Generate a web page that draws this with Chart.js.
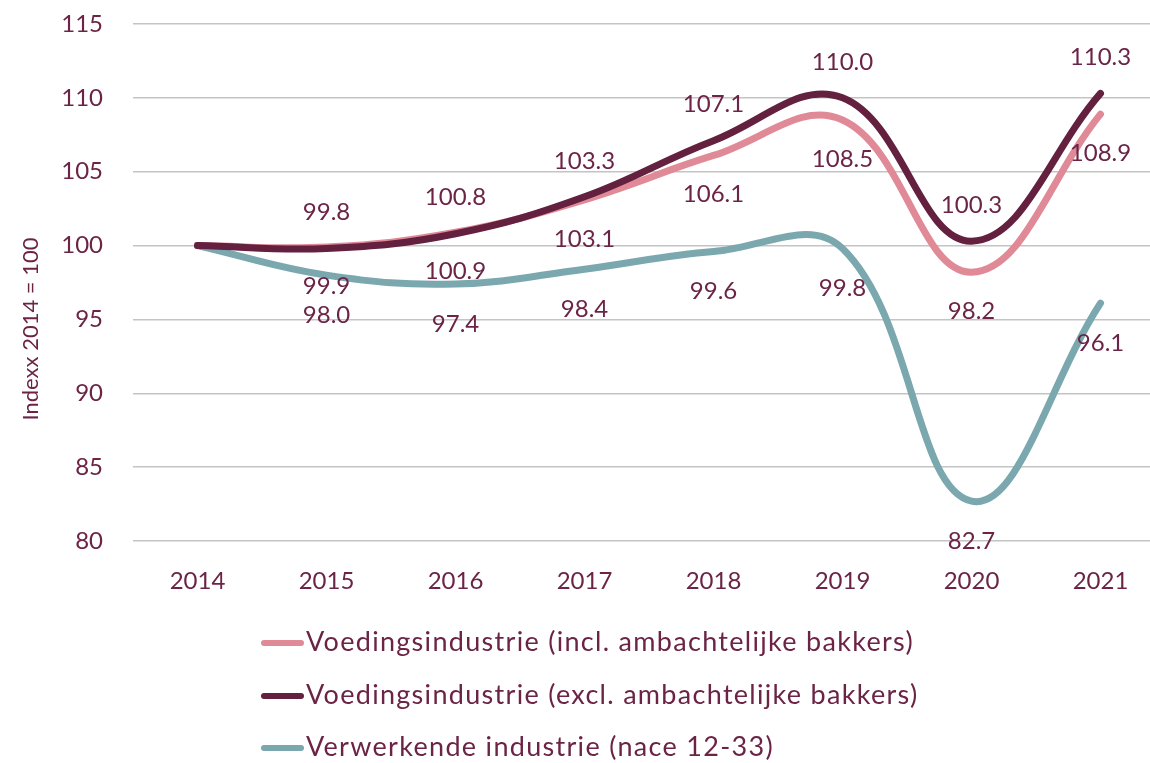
<!DOCTYPE html>
<html>
<head>
<meta charset="utf-8">
<script src="https://cdn.jsdelivr.net/npm/chart.js@4/dist/chart.umd.min.js"></script>
<style>
  html, body { margin: 0; padding: 0; background: #ffffff; overflow: hidden; }
  #wrap { position: relative; width: 1150px; height: 763px; overflow: hidden; }
  #c { display: block; }
</style>
</head>
<body>
<div id="wrap"><canvas id="c" width="1165" height="763"></canvas></div>
<script>
const years = ['2014', '2015', '2016', '2017', '2018', '2019', '2020', '2021'];
const inclBakkers = [100, 99.9, 100.9, 103.1, 106.1, 108.5, 98.2, 108.9];
const exclBakkers = [100, 99.8, 100.8, 103.3, 107.1, 110.0, 100.3, 110.3];
const verwerkend = [100, 98.0, 97.4, 98.4, 99.6, 99.8, 82.7, 96.1];
const seriesNames = [
  'Voedingsindustrie (incl. ambachtelijke bakkers)',
  'Voedingsindustrie (excl. ambachtelijke bakkers)',
  'Verwerkende industrie (nace 12-33)'
];
const yAxisTitle = 'Indexx 2014 = 100';
const yMin = 80, yMax = 115, yStep = 5;

const TEXT = '#6b2446';
const FONT = 'Lato';
const colors = ['#e08a97', '#63203f', '#7aa8ae'];
const labelOffsets = [39, -36, 40];

const labelPlugin = {
  id: 'valueLabels',
  afterDatasetsDraw(chart) {
    const ctx = chart.ctx;
    ctx.save();
    ctx.font = '24px ' + FONT;
    ctx.fillStyle = TEXT;
    ctx.textAlign = 'center';
    ctx.textBaseline = 'middle';
    chart.data.datasets.forEach((ds, di) => {
      const meta = chart.getDatasetMeta(di);
      meta.data.forEach((pt, i) => {
        if (i === 0) return;
        ctx.fillText(ds.data[i].toFixed(1), pt.x, pt.y + labelOffsets[ds.seriesIndex]);
      });
    });
    ctx.restore();
  },
  afterDraw(chart) {
    const ctx = chart.ctx;
    ctx.save();
    // y-axis title
    ctx.font = '22px ' + FONT;
    ctx.fillStyle = TEXT;
    ctx.textAlign = 'center';
    ctx.textBaseline = 'middle';
    ctx.translate(31, 329);
    ctx.rotate(-Math.PI / 2);
    ctx.fillText(yAxisTitle, 0, 0);
    ctx.restore();
    // legend
    ctx.save();
    const rows = [643, 696, 748];
    ctx.font = '27px ' + FONT;
    try { ctx.letterSpacing = '1.3px'; } catch (e) {}
    ctx.textAlign = 'left';
    ctx.textBaseline = 'middle';
    seriesNames.forEach((name, i) => {
      ctx.strokeStyle = colors[i];
      ctx.lineWidth = 6;
      ctx.lineCap = 'round';
      ctx.beginPath();
      ctx.moveTo(264, rows[i]);
      ctx.lineTo(301, rows[i]);
      ctx.stroke();
      ctx.fillStyle = TEXT;
      ctx.fillText(name, 306, rows[i] - 1);
    });
    ctx.restore();
  }
};

const seriesData = [inclBakkers, exclBakkers, verwerkend];
const drawOrder = [1, 0, 2];

new Chart(document.getElementById('c'), {
  type: 'line',
  data: {
    labels: years,
    datasets: seriesData.map((d, i) => ({
      label: seriesNames[i],
      data: d,
      seriesIndex: i,
      order: drawOrder[i],
      borderColor: colors[i],
      backgroundColor: colors[i],
      borderWidth: 7,
      pointRadius: 0,
      tension: 0.4,
      fill: false,
      borderCapStyle: 'round',
      borderJoinStyle: 'round'
    }))
  },
  options: {
    responsive: false,
    animation: false,
    devicePixelRatio: 1,
    layout: { padding: { left: 0, right: 0, top: 24, bottom: 0 } },
    plugins: { legend: { display: false }, tooltip: { enabled: false } },
    scales: {
      x: {
        offset: true,
        grid: { display: false, drawTicks: false },
        border: { display: false },
        ticks: { color: TEXT, font: { family: FONT, size: 24 }, padding: 26, maxRotation: 0 },
        afterFit(scale) { scale.height = 763 - 541; }
      },
      y: {
        min: yMin, max: yMax,
        grid: { color: '#c4c4c4', lineWidth: 1.4, drawTicks: true, tickLength: 30, tickColor: 'rgba(0,0,0,0)' },
        border: { display: false },
        ticks: { stepSize: yStep, color: TEXT, font: { family: FONT, size: 24 }, padding: 0 },
        afterFit(scale) { scale.width = 133; }
      }
    }
  },
  plugins: [labelPlugin]
});
</script>
</body>
</html>
